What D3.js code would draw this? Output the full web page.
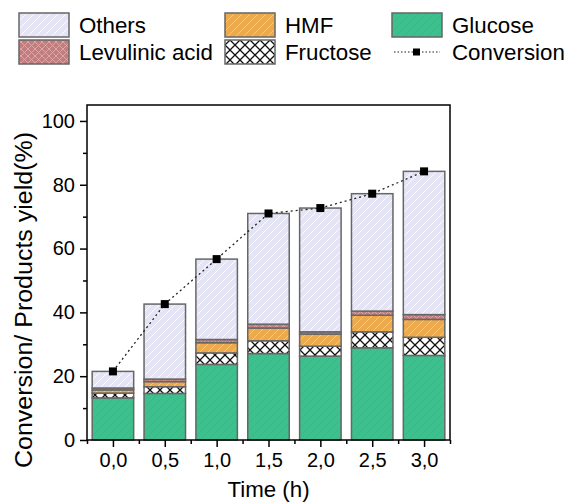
<!DOCTYPE html>
<html>
<head>
<meta charset="utf-8">
<script src="https://cdn.jsdelivr.net/npm/d3@7"></script>
<style>
  body { margin: 0; background: #fff; }
  svg { display: block; font-family: "Liberation Sans", Arial, sans-serif; }
</style>
</head>
<body>
<svg id="chart" width="565" height="504"></svg>
<script>
// Reaction time (h) and its axis labels
const times = [0, 0.5, 1.0, 1.5, 2.0, 2.5, 3.0];
const timeLabels = ["0,0", "0,5", "1,0", "1,5", "2,0", "2,5", "3,0"];

// Product yields (%) per time point, stacked bottom to top
const glucose   = [13.2, 14.6, 23.7, 27.1, 26.3, 28.9, 26.5];
const fructose  = [1.5, 2.1, 3.6, 4.0, 3.1, 5.0, 5.7];
const hmf       = [1.0, 1.6, 3.2, 4.0, 3.8, 5.2, 5.6];
const levulinic = [0.6, 0.8, 1.0, 1.2, 0.7, 1.3, 1.5];
const others    = [5.2, 23.5, 25.2, 34.7, 38.8, 36.8, 44.9];

// Conversion (%)
const conversion = [21.5, 42.6, 56.7, 71.0, 72.7, 77.2, 84.2];

const yTicks = [0, 20, 40, 60, 80, 100];

const svg = d3.select("#chart");
const margin = { left: 87, right: 115, top: 105, bottom: 64 };
const W = 565, H = 504;

const x = d3.scaleLinear().domain([-0.25, 3.25]).range([margin.left, W - margin.right]);
const y = d3.scaleLinear().domain([0, 105]).range([H - margin.bottom, margin.top]);

// ---- hatch patterns ----
const defs = svg.append("defs");
function diagPattern(id, bg, line, size, width) {
  const p = defs.append("pattern").attr("id", id).attr("patternUnits", "userSpaceOnUse")
    .attr("width", size).attr("height", size);
  p.append("rect").attr("width", size).attr("height", size).attr("fill", bg);
  p.append("path").attr("d", `M0,${size} L${size},0 M${-size/2},${size/2} L${size/2},${-size/2} M${size/2},${size*1.5} L${size*1.5},${size/2}`)
    .attr("stroke", line).attr("stroke-width", width);
}
function crossPattern(id, bg, line, size, width) {
  const p = defs.append("pattern").attr("id", id).attr("patternUnits", "userSpaceOnUse")
    .attr("width", size).attr("height", size);
  p.append("rect").attr("width", size).attr("height", size).attr("fill", bg);
  p.append("path").attr("d", `M0,0 L${size},${size} M0,${size} L${size},0`)
    .attr("stroke", line).attr("stroke-width", width);
}
diagPattern("pOthers", "#e4e4f4", "#ffffff", 8, 0.9);
diagPattern("pHmf", "#edaa4c", "#f6cc8c", 8, 0.9);
diagPattern("pGlucose", "#3ec08e", "#6f9c88", 8, 0.9);
crossPattern("pLevulinic", "#c27e7e", "#dcaaaa", 7, 0.9);
crossPattern("pFructose", "#ffffff", "#111111", 10, 1.3);

const series = [
  { name: "Glucose", values: glucose, fill: "url(#pGlucose)" },
  { name: "Fructose", values: fructose, fill: "url(#pFructose)" },
  { name: "HMF", values: hmf, fill: "url(#pHmf)" },
  { name: "Levulinic acid", values: levulinic, fill: "url(#pLevulinic)" },
  { name: "Others", values: others, fill: "url(#pOthers)" }
];

const rows = times.map((t, i) => {
  const r = { t };
  series.forEach(s => r[s.name] = s.values[i]);
  return r;
});
const stack = d3.stack().keys(series.map(s => s.name));
const stacked = stack(rows);

const barW = x(0.4) - x(0);

const barsG = svg.append("g");
stacked.forEach((layer, k) => {
  barsG.selectAll(null).data(layer).join("rect")
    .attr("x", d => x(d.data.t) - barW / 2)
    .attr("width", barW)
    .attr("y", d => y(d[1]))
    .attr("height", d => y(d[0]) - y(d[1]))
    .attr("fill", series[k].fill)
    .attr("stroke", "#666")
    .attr("stroke-width", 1.5);
});

// ---- conversion line ----
const line = d3.line().x((d, i) => x(times[i])).y(d => y(d));
svg.append("path").datum(conversion)
  .attr("d", line).attr("fill", "none")
  .attr("stroke", "#222").attr("stroke-width", 1.3)
  .attr("stroke-dasharray", "2,3");
svg.selectAll(".mk").data(conversion).join("rect")
  .attr("x", (d, i) => x(times[i]) - 4).attr("y", d => y(d) - 4)
  .attr("width", 8).attr("height", 8).attr("fill", "#000");

// ---- axes ----
const axisColor = "#000";
const gx = svg.append("g").attr("transform", `translate(0,${y(0)})`)
  .call(d3.axisBottom(x).tickValues(times).tickFormat((d, i) => timeLabels[i]).tickSize(7).tickSizeOuter(0).tickPadding(6));
const gxm = svg.append("g").attr("transform", `translate(0,${y(0)})`)
  .call(d3.axisBottom(x).tickValues([-0.25, 0.25, 0.75, 1.25, 1.75, 2.25, 2.75, 3.25]).tickFormat("").tickSize(4).tickSizeOuter(0));
const gy = svg.append("g").attr("transform", `translate(${x(-0.25)},0)`)
  .call(d3.axisLeft(y).tickValues(yTicks).tickSize(7).tickSizeOuter(0).tickPadding(5));
const gym = svg.append("g").attr("transform", `translate(${x(-0.25)},0)`)
  .call(d3.axisLeft(y).tickValues([10, 30, 50, 70, 90]).tickFormat("").tickSize(4).tickSizeOuter(0));
[gx, gxm, gy, gym].forEach(g => {
  g.selectAll("path").remove();
  g.selectAll("line").attr("stroke", axisColor).attr("stroke-width", 1.5);
  g.selectAll("text").attr("font-size", 20).attr("fill", "#000").attr("font-family", "Liberation Sans, Arial, sans-serif");
});

// frame
svg.append("rect").attr("x", x(-0.25)).attr("y", y(105))
  .attr("width", x(3.25) - x(-0.25)).attr("height", y(0) - y(105))
  .attr("fill", "none").attr("stroke", "#000").attr("stroke-width", 1.5);

// axis titles
svg.append("text").attr("x", (x(-0.25) + x(3.25)) / 2).attr("y", 497)
  .attr("text-anchor", "middle").attr("font-size", 22.3).text("Time (h)");
svg.append("text").attr("transform", `translate(32,300) rotate(-90)`)
  .attr("text-anchor", "middle").attr("font-size", 23)
  .attr("textLength", 336).attr("lengthAdjust", "spacingAndGlyphs")
  .text("Conversion/ Products yield(%)");

// ---- legend ----
const legendItems = [
  { label: "Others", fill: "url(#pOthers)", col: 0, row: 0 },
  { label: "Levulinic acid", fill: "url(#pLevulinic)", col: 0, row: 1 },
  { label: "HMF", fill: "url(#pHmf)", col: 1, row: 0 },
  { label: "Fructose", fill: "url(#pFructose)", col: 1, row: 1 },
  { label: "Glucose", fill: "url(#pGlucose)", col: 2, row: 0 },
  { label: "Conversion", line: true, col: 2, row: 1 }
];
const colX = [19, 225, 392];
const rowY = [13, 40];
const lg = svg.append("g");
legendItems.forEach(it => {
  const gx0 = colX[it.col], gy0 = rowY[it.row];
  if (it.line) {
    lg.append("line").attr("x1", gx0 + 2).attr("x2", gx0 + 48)
      .attr("y1", gy0 + 12).attr("y2", gy0 + 12)
      .attr("stroke", "#222").attr("stroke-width", 1.2).attr("stroke-dasharray", "1.5,2");
    lg.append("rect").attr("x", gx0 + 21).attr("y", gy0 + 8.5).attr("width", 7).attr("height", 7).attr("fill", "#000");
  } else {
    lg.append("rect").attr("x", gx0).attr("y", gy0).attr("width", 50).attr("height", 24)
      .attr("fill", it.fill).attr("stroke", "#666").attr("stroke-width", 1.5);
  }
  lg.append("text").attr("x", gx0 + 60).attr("y", gy0 + 19.7)
    .attr("font-size", 22.3).attr("fill", "#000").text(it.label);
});
</script>
</body>
</html>
